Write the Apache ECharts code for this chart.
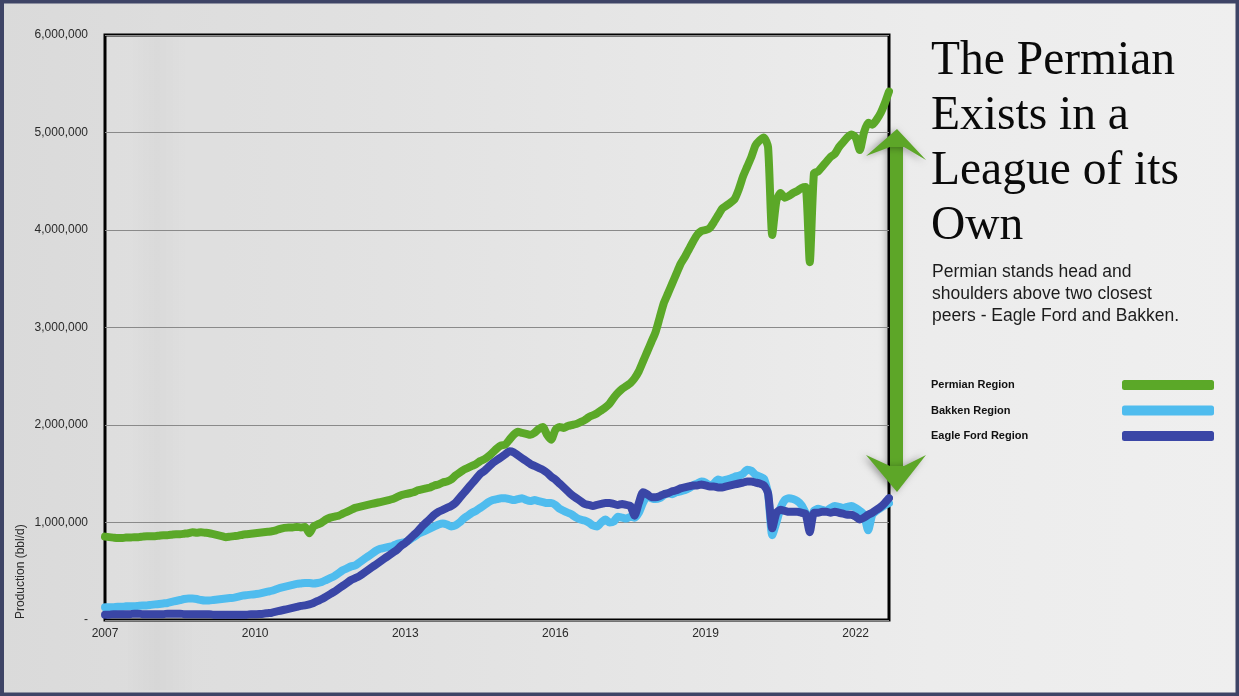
<!DOCTYPE html>
<html>
<head>
<meta charset="utf-8">
<title>Permian vs Bakken vs Eagle Ford production</title>
<script src="https://cdn.jsdelivr.net/npm/echarts@6/dist/echarts.min.js"></script>
<style>
  html, body { margin: 0; padding: 0; }
  body { width: 1239px; height: 696px; overflow: hidden;
         background: linear-gradient(90deg, #dadada 0%, #e3e3e3 40%, #ececec 75%, #efefef 100%); }
  #chart { width: 1239px; height: 696px; }
</style>
</head>
<body>
<div id="chart"></div>
<script>
// Monthly crude production, barrels per day, January 2007 through September 2022.
const firstYear = 2007;

const permian = [
  855000, 850000, 845000, 840000, 840000, 845000, 845000, 850000, 850000, 855000, 860000, 860000,
  860000, 865000, 870000, 870000, 875000, 880000, 880000, 885000, 890000, 900000, 895000, 900000,
  895000, 890000, 880000, 870000, 860000, 850000, 855000, 860000, 865000, 875000, 880000, 885000,
  890000, 895000, 900000, 905000, 910000, 920000, 935000, 945000, 950000, 950000, 955000, 950000,
  955000, 890000, 960000, 980000, 1000000, 1030000, 1050000, 1060000, 1070000, 1090000, 1110000, 1130000,
  1150000, 1160000, 1170000, 1180000, 1190000, 1200000, 1210000, 1220000, 1230000, 1240000, 1260000, 1280000,
  1290000, 1300000, 1310000, 1330000, 1340000, 1350000, 1360000, 1380000, 1390000, 1410000, 1420000, 1440000,
  1480000, 1510000, 1540000, 1560000, 1580000, 1600000, 1630000, 1650000, 1680000, 1720000, 1760000, 1790000,
  1800000, 1850000, 1900000, 1930000, 1920000, 1910000, 1900000, 1920000, 1960000, 1980000, 1900000, 1850000,
  1950000, 1980000, 1970000, 1990000, 2000000, 2010000, 2030000, 2050000, 2080000, 2100000, 2120000, 2150000,
  2180000, 2220000, 2280000, 2330000, 2370000, 2400000, 2430000, 2480000, 2550000, 2650000, 2750000, 2850000,
  2950000, 3100000, 3250000, 3350000, 3450000, 3550000, 3650000, 3720000, 3800000, 3880000, 3950000, 3990000,
  4000000, 4020000, 4080000, 4150000, 4220000, 4250000, 4280000, 4320000, 4420000, 4550000, 4650000, 4750000,
  4870000, 4920000, 4950000, 4850000, 3950000, 4300000, 4380000, 4330000, 4350000, 4380000, 4400000, 4430000,
  4440000, 3670000, 4580000, 4600000, 4650000, 4700000, 4750000, 4780000, 4850000, 4900000, 4950000, 4980000,
  4950000, 4820000, 5000000, 5100000, 5080000, 5130000, 5200000, 5300000, 5420000
];

const bakken = [
  130000, 130000, 130000, 135000, 135000, 140000, 140000, 140000, 145000, 150000, 150000, 155000,
  160000, 165000, 170000, 175000, 185000, 195000, 205000, 215000, 220000, 220000, 215000, 205000,
  200000, 200000, 205000, 210000, 215000, 220000, 225000, 230000, 240000, 250000, 255000, 260000,
  265000, 270000, 280000, 290000, 300000, 315000, 330000, 340000, 350000, 360000, 370000, 375000,
  380000, 380000, 375000, 380000, 390000, 410000, 430000, 450000, 480000, 510000, 530000, 550000,
  560000, 590000, 620000, 650000, 680000, 710000, 730000, 740000, 750000, 760000, 780000, 790000,
  800000, 820000, 850000, 880000, 900000, 920000, 940000, 960000, 980000, 990000, 980000, 960000,
  970000, 1000000, 1040000, 1070000, 1100000, 1120000, 1150000, 1180000, 1210000, 1230000, 1240000, 1250000,
  1250000, 1240000, 1230000, 1240000, 1250000, 1230000, 1220000, 1230000, 1220000, 1210000, 1200000, 1200000,
  1180000, 1140000, 1120000, 1100000, 1080000, 1050000, 1030000, 1020000, 1000000, 970000, 960000, 1000000,
  1030000, 1000000, 1010000, 1060000, 1050000, 1040000, 1060000, 1050000, 1100000, 1200000, 1270000, 1250000,
  1240000, 1250000, 1280000, 1300000, 1290000, 1310000, 1320000, 1330000, 1350000, 1380000, 1400000, 1420000,
  1410000, 1380000, 1400000, 1440000, 1430000, 1440000, 1450000, 1470000, 1480000, 1500000, 1540000, 1530000,
  1490000, 1470000, 1450000, 1300000, 870000, 1000000, 1150000, 1230000, 1250000, 1240000, 1220000, 1180000,
  1100000, 1000000, 1120000, 1140000, 1130000, 1120000, 1150000, 1170000, 1160000, 1150000, 1160000, 1170000,
  1150000, 1120000, 1080000, 920000, 1080000, 1120000, 1150000, 1180000, 1200000
];

const eagleFord = [
  55000, 55000, 60000, 60000, 60000, 60000, 60000, 65000, 65000, 60000, 60000, 60000,
  60000, 60000, 60000, 65000, 65000, 65000, 65000, 60000, 60000, 60000, 60000, 60000,
  60000, 60000, 55000, 55000, 55000, 55000, 55000, 55000, 55000, 55000, 55000, 60000,
  60000, 62000, 65000, 70000, 75000, 85000, 95000, 105000, 115000, 125000, 135000, 145000,
  150000, 160000, 175000, 195000, 215000, 240000, 265000, 290000, 320000, 350000, 380000, 410000,
  430000, 450000, 480000, 510000, 540000, 570000, 600000, 630000, 660000, 690000, 720000, 760000,
  790000, 830000, 870000, 910000, 960000, 1000000, 1040000, 1080000, 1110000, 1130000, 1150000, 1170000,
  1200000, 1250000, 1300000, 1350000, 1400000, 1450000, 1500000, 1530000, 1570000, 1610000, 1640000, 1670000,
  1700000, 1730000, 1720000, 1690000, 1660000, 1630000, 1600000, 1580000, 1560000, 1540000, 1510000, 1470000,
  1440000, 1400000, 1360000, 1320000, 1280000, 1250000, 1220000, 1190000, 1180000, 1170000, 1180000, 1190000,
  1200000, 1200000, 1190000, 1180000, 1190000, 1180000, 1170000, 1070000, 1200000, 1310000, 1290000, 1260000,
  1260000, 1270000, 1290000, 1300000, 1320000, 1330000, 1350000, 1360000, 1370000, 1380000, 1380000, 1390000,
  1380000, 1370000, 1370000, 1360000, 1360000, 1370000, 1380000, 1390000, 1400000, 1410000, 1420000, 1420000,
  1410000, 1400000, 1380000, 1300000, 940000, 1100000, 1130000, 1120000, 1110000, 1110000, 1110000, 1100000,
  1090000, 900000, 1100000, 1100000, 1110000, 1110000, 1100000, 1110000, 1100000, 1090000, 1080000, 1080000,
  1060000, 1030000, 1050000, 1080000, 1100000, 1130000, 1160000, 1200000, 1250000
];

const yearTicks = [2007, 2010, 2013, 2016, 2019, 2022];
const seriesNames = ['Permian Region', 'Bakken Region', 'Eagle Ford Region'];
const seriesColors = ['#5ba828', '#4fbcee', '#3a46a6'];

const headline = 'The Permian\nExists in a\nLeague of its\nOwn';
const blurb = 'Permian stands head and\nshoulders above two closest\npeers - Eagle Ford and Bakken.';
const yAxisTitle = 'Production (bbl/d)';

// Pair each monthly value with its position on the year axis.
function toPairs(values) {
  return values.map((v, i) => [firstYear + i / 12, v]);
}
const lastX = firstYear + (permian.length - 1) / 12;

function thousands(v) {
  return v === 0 ? '-' : v.toLocaleString('en-US');
}

const chart = echarts.init(document.getElementById('chart'), null, { renderer: 'canvas' });

const greenArrow = '#5da628';
const arrowShadow = { shadowColor: 'rgba(0,0,0,0.35)', shadowBlur: 7, shadowOffsetX: -3, shadowOffsetY: 1 };

chart.setOption({
  backgroundColor: 'transparent',
  animation: false,
  grid: {
    left: 105, top: 35, right: 350, bottom: 76,
    show: true, backgroundColor: 'rgba(255,255,255,0.06)',
    borderColor: '#000', borderWidth: 3
  },
  xAxis: {
    type: 'value', min: firstYear, max: lastX, interval: 3,
    axisLine: { show: false }, axisTick: { show: false },
    splitLine: { show: false },
    axisLabel: {
      margin: 8, color: '#2a2a2a', fontFamily: 'Liberation Sans', fontSize: 12,
      showMaxLabel: false,
      formatter: v => (yearTicks.indexOf(Math.round(v * 1000) / 1000) >= 0 ? String(v) : '')
    }
  },
  yAxis: {
    type: 'value', min: 0, max: 6000000, interval: 1000000,
    axisLine: { show: false }, axisTick: { show: false },
    splitLine: { show: true, lineStyle: { color: '#8a8a8a', width: 1 } },
    axisLabel: {
      margin: 17, color: '#2a2a2a', fontFamily: 'Liberation Sans', fontSize: 12,
      formatter: thousands
    }
  },
  legend: {
    data: seriesNames,
    orient: 'vertical', left: 926, top: 372,
    align: 'right', icon: 'roundRect',
    itemWidth: 92, itemHeight: 10, itemGap: 9.5,
    formatter: name => '{n|' + name + '}',
    textStyle: {
      lineHeight: 16,
      rich: {
        n: { width: 186, align: 'left', lineHeight: 16,
             fontFamily: 'Liberation Sans', fontWeight: 'bold', fontSize: 11, color: '#111' }
      }
    },
    selectedMode: false
  },
  series: [
    { name: seriesNames[1], data: toPairs(bakken), color: seriesColors[1] },
    { name: seriesNames[2], data: toPairs(eagleFord), color: seriesColors[2] },
    { name: seriesNames[0], data: toPairs(permian), color: seriesColors[0] }
  ].map(s => Object.assign({
    type: 'line', showSymbol: false, symbol: 'none', smooth: 0.2,
    lineStyle: { width: 8, cap: 'round', join: 'round', color: s.color },
    itemStyle: { color: s.color },
    emphasis: { disabled: true }
  }, s)),
  graphic: [
    // soft shaded band in the backdrop
    { type: 'rect', z: -10, silent: true,
      shape: { x: 125, y: 38, width: 70, height: 652 },
      style: { fill: new echarts.graphic.LinearGradient(0, 0, 1, 0, [
        { offset: 0, color: 'rgba(0,0,0,0)' },
        { offset: 0.45, color: 'rgba(0,0,0,0.025)' },
        { offset: 1, color: 'rgba(0,0,0,0)' }
      ]) } },
    // outer frame
    { type: 'rect', z: 100, silent: true,
      shape: { x: 2, y: 1.5, width: 1235.5, height: 693 },
      style: { fill: 'none', stroke: '#3e4466', lineWidth: 4 } },
    // rotated axis title
    { type: 'text', x: 21, y: 619, rotation: Math.PI / 2, silent: true,
      style: { text: yAxisTitle, fontFamily: 'Liberation Sans', fontSize: 12,
               fill: '#2a2a2a', align: 'left', verticalAlign: 'middle' } },
    // headline
    { type: 'text', left: 931, top: 34, silent: true,
      style: { text: headline, fontFamily: 'Liberation Serif', fontSize: 47.5,
               lineHeight: 55, fill: '#0a0a0a' } },
    // supporting note
    { type: 'text', left: 932, top: 261, silent: true,
      style: { text: blurb, fontFamily: 'Liberation Sans', fontSize: 17.5,
               lineHeight: 22, fill: '#1c1c1c' } },
    // double-headed arrow spanning the gap between Permian and its peers
    { type: 'group', silent: true, z: 50, children: [
      { type: 'rect', shape: { x: 890, y: 145, width: 13, height: 322 },
        style: Object.assign({ fill: greenArrow }, arrowShadow) },
      { type: 'polygon', shape: { points: [[897, 129], [866, 156], [890, 147], [904, 147], [926, 160]] },
        style: Object.assign({ fill: greenArrow }, arrowShadow) },
      { type: 'polygon', shape: { points: [[897, 492], [866, 455], [890, 466], [904, 466], [926, 455]] },
        style: Object.assign({ fill: greenArrow }, arrowShadow) }
    ] }
  ]
});
</script>
</body>
</html>
